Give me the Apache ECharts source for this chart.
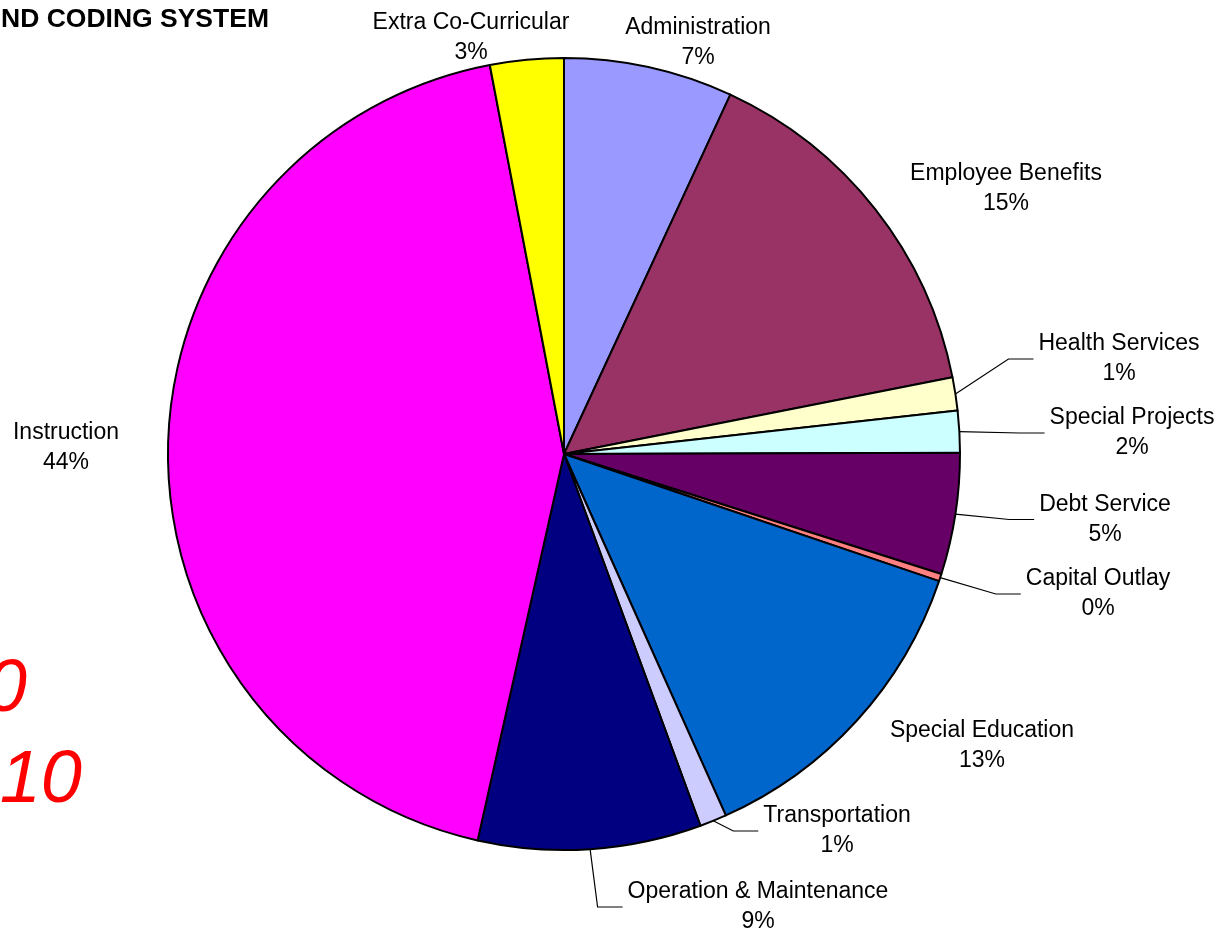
<!DOCTYPE html>
<html>
<head>
<meta charset="utf-8">
<script src="https://cdn.jsdelivr.net/npm/echarts@6/dist/echarts.min.js"></script>
<style>
  html, body { margin: 0; padding: 0; background: #ffffff; }
  #chart { width: 1222px; height: 928px; }
</style>
</head>
<body>
<div id="chart"></div>
<script>
// ---- data ----
const CATEGORIES = [
  'Administration', 'Employee Benefits', 'Health Services', 'Special Projects',
  'Debt Service', 'Capital Outlay', 'Special Education', 'Transportation',
  'Operation & Maintenance', 'Instruction', 'Extra Co-Curricular'
];
const VALUES = [6.9, 15.0, 1.35, 1.7, 4.95, 0.3, 13.1, 1.1, 9.1, 43.5, 3.0];
const TITLE_TEXT = 'ND CODING SYSTEM';
const RED_LINE_1 = '0';
const RED_LINE_2 = '10';

// ---- styling / layout ----
const COLORS = ['#9999FF', '#993366', '#FFFFCC', '#CCFFFF', '#660066', '#FF8080',
                '#0066CC', '#CCCCFF', '#000080', '#FF00FF', '#FFFF00'];
const WITH_LEADER = ['Health Services', 'Special Projects', 'Debt Service',
                     'Capital Outlay', 'Transportation', 'Operation & Maintenance'];
const LABEL_POS = {
  'Administration': [698, 42.5],
  'Employee Benefits': [1006, 189],
  'Health Services': [1119, 359],
  'Special Projects': [1132, 433],
  'Debt Service': [1105, 519.5],
  'Capital Outlay': [1098, 594],
  'Special Education': [982, 746],
  'Transportation': [837, 831],
  'Operation & Maintenance': [758, 907],
  'Instruction': [66, 448],
  'Extra Co-Curricular': [471, 38]
};
const FONT = "'Liberation Sans', Arial, sans-serif";

const chart = echarts.init(document.getElementById('chart'), null, { renderer: 'canvas' });

const pieData = CATEGORIES.map((name, i) => ({
  name: name,
  value: VALUES[i],
  itemStyle: { color: COLORS[i] },
  labelLine: { show: WITH_LEADER.indexOf(name) >= 0 }
}));

chart.setOption({
  animation: false,
  backgroundColor: '#ffffff',
  graphic: [
    {
      type: 'text', left: 1, top: 6,
      style: { text: TITLE_TEXT, fill: '#000', font: "bold 26.5px 'Liberation Sans', Arial, sans-serif" }
    },
    {
      type: 'text', x: 27, y: 690,
      style: { text: RED_LINE_1, fill: '#FF0000', align: 'right', verticalAlign: 'middle',
               font: "italic 74px 'Liberation Sans', Arial, sans-serif" }
    },
    {
      type: 'text', x: 82, y: 781,
      style: { text: RED_LINE_2, fill: '#FF0000', align: 'right', verticalAlign: 'middle',
               font: "italic 74px 'Liberation Sans', Arial, sans-serif" }
    }
  ],
  series: [{
    type: 'pie',
    center: [564, 454],
    radius: 396,
    startAngle: 90,
    clockwise: true,
    avoidLabelOverlap: false,
    percentPrecision: 0,
    itemStyle: { borderColor: '#000', borderWidth: 2 },
    emphasis: { disabled: true },
    label: {
      show: true,
      position: 'outside',
      formatter: '{b}\n{d}%',
      color: '#000',
      fontFamily: FONT,
      fontSize: 23,
      lineHeight: 30,
      padding: [0, 5]
    },
    labelLine: {
      show: true,
      length: 20,
      length2: 25,
      lineStyle: { color: '#000', width: 1.2 }
    },
    labelLayout: function (params) {
      const p = LABEL_POS[CATEGORIES[params.dataIndex]];
      return { x: p[0], y: p[1], align: 'center', verticalAlign: 'middle' };
    },
    data: pieData
  }]
});
</script>
</body>
</html>
